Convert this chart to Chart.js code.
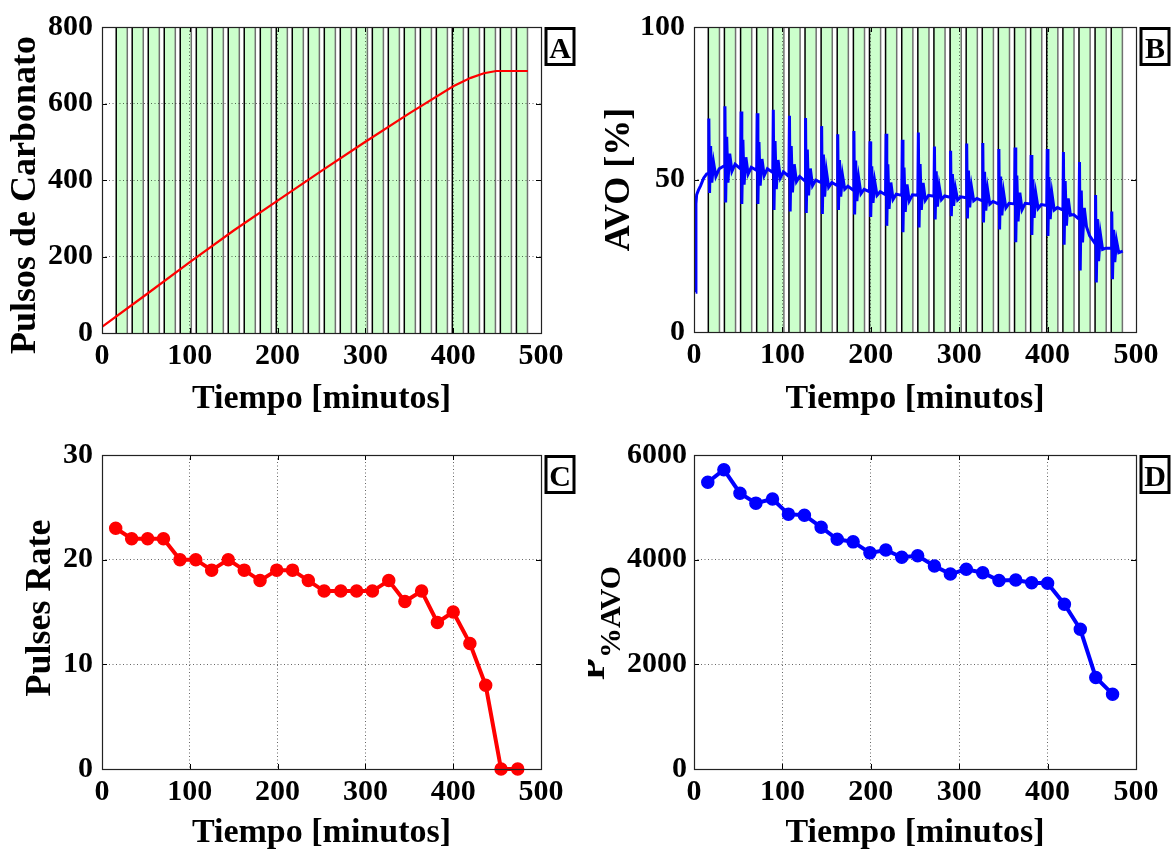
<!DOCTYPE html>
<html><head><meta charset="utf-8">
<script src="https://cdn.jsdelivr.net/npm/chart.js@4.4.1/dist/chart.umd.min.js"></script>
<style>
html,body{margin:0;padding:0;background:#fff;}
#wrap{position:relative;width:1175px;height:851px;overflow:hidden;background:#fff;}
canvas{position:absolute;}
</style></head><body>
<div id="wrap">
<canvas id="cA" width="588" height="425" style="left:0;top:0"></canvas>
<canvas id="cB" width="587" height="425" style="left:588px;top:0"></canvas>
<canvas id="cC" width="588" height="426" style="left:0;top:425px"></canvas>
<canvas id="cD" width="587" height="426" style="left:588px;top:425px"></canvas>
</div>
<script>
// ---------------- DATA ----------------
const timeTicks = [0, 100, 200, 300, 400, 500];
const pulseTicks = [0, 200, 400, 600, 800];
const avoTicks = [0, 50, 100];
const rateTicks = [0, 10, 20, 30];
const pavoTicks = [0, 2000, 4000, 6000];

// green injection intervals (minutes)
const bandStarts = [16.2, 34.4, 52.7, 70.9, 89.1, 107.4, 125.6, 143.8, 162.0, 180.3, 198.5, 216.7, 235.0,
  253.2, 271.4, 289.7, 307.9, 326.1, 344.3, 362.6, 380.8, 399.0, 417.3, 435.5, 453.7, 472.0];
const bandEnds = [28.8, 47.0, 65.3, 83.5, 101.7, 120.0, 138.2, 156.4, 174.6, 192.9, 211.1, 229.3, 247.6,
  265.8, 284.0, 302.3, 320.5, 338.7, 356.9, 375.2, 393.4, 411.6, 429.9, 448.1, 466.3, 484.6];

// Panel A: cumulative carbonate pulses
const pulseTimes = [0, 50, 100, 150, 200, 250, 300, 350, 400, 420, 435, 449, 485];
const pulseCounts = [16, 100, 185, 268, 346, 424, 500, 574, 645, 667, 679, 685, 685];

// Panel B: AVO [%] signal  [time, value]
const avoSeries = [
  [1.9,13],[2.2,42],[3,45],[5,46.5],[7.5,48],[11,50.5],[14.3,51.8],
  [16.2,52],[16.8,70],[17.6,45.6],[18.8,61],[20.2,49],[22.2,55.5],[24.7,51],[28.5,53.5],
  [34.4,54.5],[35,74],[35.8,42.5],[37,64],[38.4,49],[40.4,58.5],[42.9,52.7],[46.5,55],
  [52.7,53.5],[53.3,72.3],[54.1,42],[55.3,63],[56.7,48.3],[58.7,57.3],[61.2,51.8],[64.8,54],
  [70.9,53],[71.5,71.7],[72.3,42],[73.5,62.3],[74.9,48],[76.9,56.7],[79.4,51.3],[83,53.5],
  [89.1,52.3],[89.7,72.9],[90.5,40],[91.7,62.6],[93.1,46.8],[95.1,56.4],[97.6,50.5],[101.2,52.5],
  [107.4,51],[108,70.9],[108.8,39.5],[110,61],[111.4,45.8],[113.4,55],[115.9,49.3],[119.5,51],
  [125.6,49.5],[126.2,70.2],[127,39],[128.2,59.8],[129.6,44.8],[131.6,53.6],[134.1,48],[137.7,49.8],
  [143.8,49],[144.4,67.5],[145.2,38.7],[146.4,58.2],[147.8,44.4],[149.8,52.7],[152.3,47.5],[155.9,49],
  [162,48],[162.6,64.8],[163.4,40],[164.6,56.4],[166,44.4],[168,51.4],[170.5,46.8],[174.1,47.8],
  [180.3,46.5],[180.9,65.9],[181.7,38.5],[182.9,56.2],[184.3,42.9],[186.3,50.4],[188.8,45.3],[192.4,46.8],
  [198.5,46],[199.1,62.5],[199.9,37.7],[201.1,54.3],[202.5,42.3],[204.5,49.3],[207,44.8],[210.6,46],
  [216.7,45],[217.3,65],[218.1,34.8],[219.3,55],[220.7,40.4],[222.7,49],[225.2,43.5],[228.8,45.2],
  [235,44.8],[235.6,63],[236.4,32.7],[237.6,53.9],[239,39.4],[241,48.4],[243.5,43],[247.1,45],
  [253.2,44.8],[253.8,65.4],[254.6,34.3],[255.8,55.1],[257.2,40],[259.2,48.9],[261.7,43.2],[265.3,44.8],
  [271.4,44.5],[272,60.8],[272.8,36.9],[274,52.7],[275.4,41.1],[277.4,47.8],[279.9,43.4],[283.5,44.6],
  [289.7,44.2],[290.3,59.4],[291.1,38],[292.3,51.8],[293.7,41.4],[295.7,47.2],[298.2,43.3],[301.8,44.3],
  [307.9,44],[308.5,61.8],[309.3,37.2],[310.5,52.9],[311.9,40.9],[313.9,47.6],[316.4,43],[320,43.8],
  [326.1,43],[326.7,62],[327.5,35.9],[328.7,52.5],[330.1,39.8],[332.1,46.8],[334.6,41.9],[338.2,42.8],
  [344.3,42],[344.9,60],[345.7,33.6],[346.9,51],[348.3,38.2],[350.3,45.6],[352.8,40.7],[356.4,42.2],
  [362.6,42],[363.2,60.5],[364,29.4],[365.2,51.3],[366.6,36.3],[368.6,45.7],[371.1,40.1],[374.7,42.2],
  [380.8,42],[381.4,58],[382.2,31.8],[383.4,50],[384.8,37.4],[386.8,45.2],[389.3,40.5],[392.9,41.8],
  [399,41.5],[399.6,60],[400.4,31.5],[401.6,50.8],[403,37],[405,45.2],[407.5,40],[411.1,40.8],
  [417.3,40],[417.9,59],[418.7,28.6],[419.9,49.5],[421.3,34.9],[423.3,43.8],[425.8,38.3],[429.4,38.5],
  [435.5,37],[436.1,55.7],[436.9,20.2],[438.1,46.4],[439.5,29.4],[441.5,40.7],[444,34.5],[447.6,31.5],
  [453.7,29],[454.3,44.9],[455.1,16.2],[456.3,37],[457.7,23.2],[459.7,32.2],[462.2,27.1],[465.8,27.5],
  [472,27.5],[472.6,39.5],[473.4,17.3],[474.6,33.5],[476,22.9],[478,29.9],[480.5,26],[485,26.5]
];

// Panels C and D: per-pulse values
const pulseEventTimes = [15.6, 33.8, 52, 70, 88.8, 106.8, 124.9, 143.8, 162, 180, 199, 217, 235,
  253, 272, 290, 308, 326.6, 345, 364, 382, 400, 419, 437, 454.5, 473.5];
const rateValues = [23, 22, 22, 22, 20, 20, 19, 20, 19, 18, 19, 19, 18, 17, 17, 17, 17, 18, 16, 17, 14, 15, 12, 8, 0, 0];
const pavoValues = [5480, 5720, 5270, 5080, 5160, 4870, 4850, 4620, 4390, 4340, 4130, 4185, 4045, 4075,
  3880, 3725, 3815, 3750, 3600, 3610, 3560, 3550, 3150, 2670, 1750, 1430];

// ---------------- STYLE / HELPERS ----------------
const SERIF = "'Liberation Serif','Times New Roman',serif";
const GRID = 'rgba(0,0,0,0.6)';

const bandPlugin = {
  id: 'bands',
  beforeDraw(chart, args, opts) {
    if (!opts || !opts.starts) return;
    const {ctx, chartArea: a} = chart;
    const xs = chart.scales.x;
    ctx.save();
    for (let i = 0; i < opts.starts.length; i++) {
      const x1 = xs.getPixelForValue(opts.starts[i]);
      const x2 = xs.getPixelForValue(opts.ends[i]);
      ctx.fillStyle = '#ccffcc';
      ctx.fillRect(x1, a.top, x2 - x1, a.bottom - a.top);
      ctx.lineWidth = 1.5;
      ctx.strokeStyle = '#000';
      ctx.beginPath(); ctx.moveTo(x1, a.top); ctx.lineTo(x1, a.bottom); ctx.stroke();
      ctx.strokeStyle = '#707070';
      ctx.beginPath(); ctx.moveTo(x2, a.top); ctx.lineTo(x2, a.bottom); ctx.stroke();
    }
    ctx.restore();
  }
};

const framePlugin = {
  id: 'frame',
  afterDraw(chart, args, opts) {
    const {ctx, chartArea: a} = chart;
    const xs = chart.scales.x, ys = chart.scales.y;
    ctx.save();
    // inward tick marks
    ctx.strokeStyle = '#000';
    ctx.lineWidth = 1;
    const L = 5;
    xs.ticks.forEach(t => {
      const x = Math.round(xs.getPixelForValue(t.value)) + 0.5;
      ctx.beginPath();
      ctx.moveTo(x, a.bottom); ctx.lineTo(x, a.bottom - L);
      ctx.moveTo(x, a.top); ctx.lineTo(x, a.top + L);
      ctx.stroke();
    });
    ys.ticks.forEach(t => {
      const y = Math.round(ys.getPixelForValue(t.value)) + 0.5;
      ctx.beginPath();
      ctx.moveTo(a.left, y); ctx.lineTo(a.left + L, y);
      ctx.moveTo(a.right, y); ctx.lineTo(a.right - L, y);
      ctx.stroke();
    });
    // axes box
    ctx.lineWidth = 1.2;
    ctx.strokeStyle = '#222';
    ctx.strokeRect(Math.round(a.left) + 0.5, Math.round(a.top) + 0.5,
                   Math.round(a.right - a.left), Math.round(a.bottom - a.top));
    // boxed panel letter
    const bx = a.right + 5, by = a.top + 1.5;
    ctx.fillStyle = '#fff';
    ctx.fillRect(bx, by, 28, 36);
    ctx.lineWidth = 3;
    ctx.strokeStyle = '#000';
    ctx.strokeRect(bx, by, 28, 36);
    ctx.fillStyle = '#000';
    ctx.font = 'bold 30px ' + SERIF;
    ctx.textAlign = 'center';
    ctx.textBaseline = 'alphabetic';
    ctx.fillText(opts.letter, bx + 14, by + 29);
    // y-axis title (rotated)
    const yt = opts.ytitle;
    ctx.translate(yt.x, (a.top + a.bottom) / 2 + yt.dy);
    ctx.rotate(-Math.PI / 2);
    ctx.textBaseline = 'alphabetic';
    if (yt.sub) {
      ctx.font = 'bold ' + yt.size + 'px ' + SERIF;
      const w1 = ctx.measureText(yt.text).width;
      ctx.font = 'bold ' + yt.subSize + 'px ' + SERIF;
      const w2 = ctx.measureText(yt.sub).width;
      const x0 = -(w1 + w2) / 2;
      ctx.textAlign = 'left';
      ctx.font = 'bold ' + yt.size + 'px ' + SERIF;
      ctx.fillText(yt.text, x0, 0);
      ctx.font = 'bold ' + yt.subSize + 'px ' + SERIF;
      ctx.fillText(yt.sub, x0 + w1, yt.subDrop);
    } else {
      ctx.textAlign = 'center';
      ctx.font = 'bold ' + yt.size + 'px ' + SERIF;
      ctx.fillText(yt.text, 0, 0);
    }
    ctx.restore();
  }
};

function panel(id, o) {
  const cv = document.getElementById(id);
  const W = cv.width, H = cv.height;
  const A = o.area;
  const tickFont = {family: SERIF, size: 30, weight: 'bold'};
  return new Chart(cv, {
    type: 'line',
    data: {datasets: o.datasets},
    options: {
      responsive: false, animation: false, devicePixelRatio: 1,
      layout: {padding: {left: 0, top: A.t, right: W - A.r, bottom: 0}},
      plugins: {
        legend: {display: false}, tooltip: {enabled: false},
        bands: o.bands || {},
        frame: {letter: o.letter, ytitle: o.ytitle}
      },
      scales: {
        x: {
          type: 'linear', min: 0, max: 500,
          afterBuildTicks(s) { s.ticks = timeTicks.map(v => ({value: v})); },
          afterFit(s) { s.height = H - A.b; },
          grid: {color: GRID, lineWidth: 1, drawTicks: false},
          border: {display: false, dash: [1, 2.5]},
          ticks: {color: '#000', font: tickFont, padding: o.xtickPad, maxRotation: 0, autoSkip: false,
                  callback: v => String(v)},
          title: {display: true, text: 'Tiempo [minutos]', color: '#000',
                  font: {family: SERIF, size: 34, weight: 'bold', lineHeight: 1},
                  padding: {top: 0, bottom: o.xtitlePad}}
        },
        y: {
          type: 'linear', min: o.ymin, max: o.ymax,
          afterBuildTicks(s) { s.ticks = o.yticks.map(v => ({value: v})); },
          afterFit(s) { s.width = A.l; },
          grid: {color: GRID, lineWidth: 1, drawTicks: false},
          border: {display: false, dash: [1, 2.5]},
          ticks: {color: '#000', font: tickFont, padding: o.ytickPad, autoSkip: false,
                  callback: v => String(v)}
        }
      }
    },
    plugins: [bandPlugin, framePlugin]
  });
}

// ---------------- PANELS ----------------
panel('cA', {
  area: {l: 102, t: 17, r: 541, b: 333},
  ymin: 0, ymax: 800, yticks: pulseTicks,
  xtickPad: 5, xtitlePad: 9, ytickPad: 9,
  letter: 'A',
  bands: {starts: bandStarts, ends: bandEnds},
  ytitle: {text: 'Pulsos de Carbonato', size: 36, x: 35, dy: 15},
  datasets: [{
    data: pulseTimes.map((t, i) => ({x: t, y: pulseCounts[i]})),
    borderColor: '#ff0000', borderWidth: 2.2, pointRadius: 0, tension: 0
  }]
});

panel('cB', {
  area: {l: 106, t: 17, r: 548, b: 332},
  ymin: 0, ymax: 100, yticks: avoTicks,
  xtickPad: 5, xtitlePad: 9, ytickPad: 9,
  letter: 'B',
  bands: {starts: bandStarts, ends: bandEnds},
  ytitle: {text: 'AVO [%]', size: 36, x: 41, dy: 0},
  datasets: [{
    data: avoSeries.map(p => ({x: p[0], y: p[1]})),
    borderColor: '#0000ff', borderWidth: 3, pointRadius: 0, tension: 0
  }]
});

panel('cC', {
  area: {l: 102, t: 30, r: 541, b: 344},
  ymin: 0, ymax: 30, yticks: rateTicks,
  xtickPad: 5, xtitlePad: 1, ytickPad: 9,
  letter: 'C',
  ytitle: {text: 'Pulses Rate', size: 36, x: 50, dy: -4},
  datasets: [{
    data: pulseEventTimes.map((t, i) => ({x: t, y: rateValues[i]})),
    borderColor: '#ff0000', borderWidth: 4, pointRadius: 6, pointBackgroundColor: '#ff0000',
    pointBorderColor: '#ff0000', pointBorderWidth: 1.5, tension: 0, clip: false
  }]
});

panel('cD', {
  area: {l: 106, t: 30, r: 548, b: 344},
  ymin: 0, ymax: 6000, yticks: pavoTicks,
  xtickPad: 5, xtitlePad: 1, ytickPad: 7,
  letter: 'D',
  ytitle: {text: 'P', sub: '%AVO', size: 36, subSize: 30, subDrop: 16, x: 16, dy: 11},
  datasets: [{
    data: pulseEventTimes.map((t, i) => ({x: t, y: pavoValues[i]})),
    borderColor: '#0000ff', borderWidth: 4, pointRadius: 6, pointBackgroundColor: '#0000ff',
    pointBorderColor: '#0000ff', pointBorderWidth: 1.5, tension: 0, clip: false
  }]
});
</script>
</body></html>
